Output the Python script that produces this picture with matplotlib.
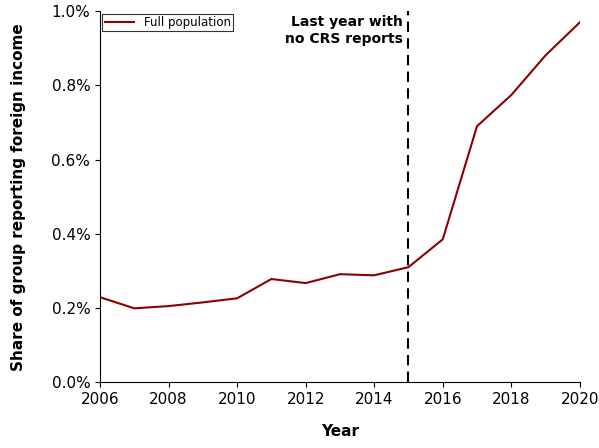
import matplotlib
matplotlib.use("Agg")
import matplotlib.pyplot as plt
from matplotlib.ticker import PercentFormatter

years = [2006, 2007, 2008, 2009, 2010, 2011, 2012, 2013, 2014, 2015, 2016, 2017, 2018, 2019, 2020]
share = [0.229, 0.199, 0.205, 0.215, 0.226, 0.278, 0.267, 0.291, 0.288, 0.310,
         0.385, 0.690, 0.774, 0.881, 0.970]

fig = plt.figure(figsize=(5.99, 4.48), dpi=100)
ax = fig.add_axes([0.167, 0.147, 0.801, 0.828])
ax.plot(years, share, color='#8b0000', lw=1.5, label='Full population')
ax.axvline(2015, color='black', ls=(0, (5, 3)), lw=1.5)
ax.text(2014.85, 0.99, "Last year with\nno CRS reports", ha='right', va='top',
        fontsize=10, fontweight='bold', linespacing=1.3)

ax.set_xlim(2006, 2020)
ax.set_ylim(0, 1.0)
ax.set_xticks(range(2006, 2021, 2))
ax.set_yticks([0, 0.2, 0.4, 0.6, 0.8, 1.0])
ax.yaxis.set_major_formatter(PercentFormatter(100, decimals=1))
ax.tick_params(labelsize=11)
ax.spines['top'].set_visible(False)
ax.spines['right'].set_visible(False)
ax.set_xlabel("Year", fontsize=11, fontweight='bold', labelpad=12)
ax.set_ylabel("Share of group reporting foreign income", fontsize=11, fontweight='bold', labelpad=18)
leg = ax.legend(loc='upper left', fontsize=8.5, fancybox=False, edgecolor='black',
                borderpad=0.2, handlelength=2.5, borderaxespad=0.2)
leg.get_frame().set_linewidth(0.8)

fig.savefig("out.png", dpi=100)
